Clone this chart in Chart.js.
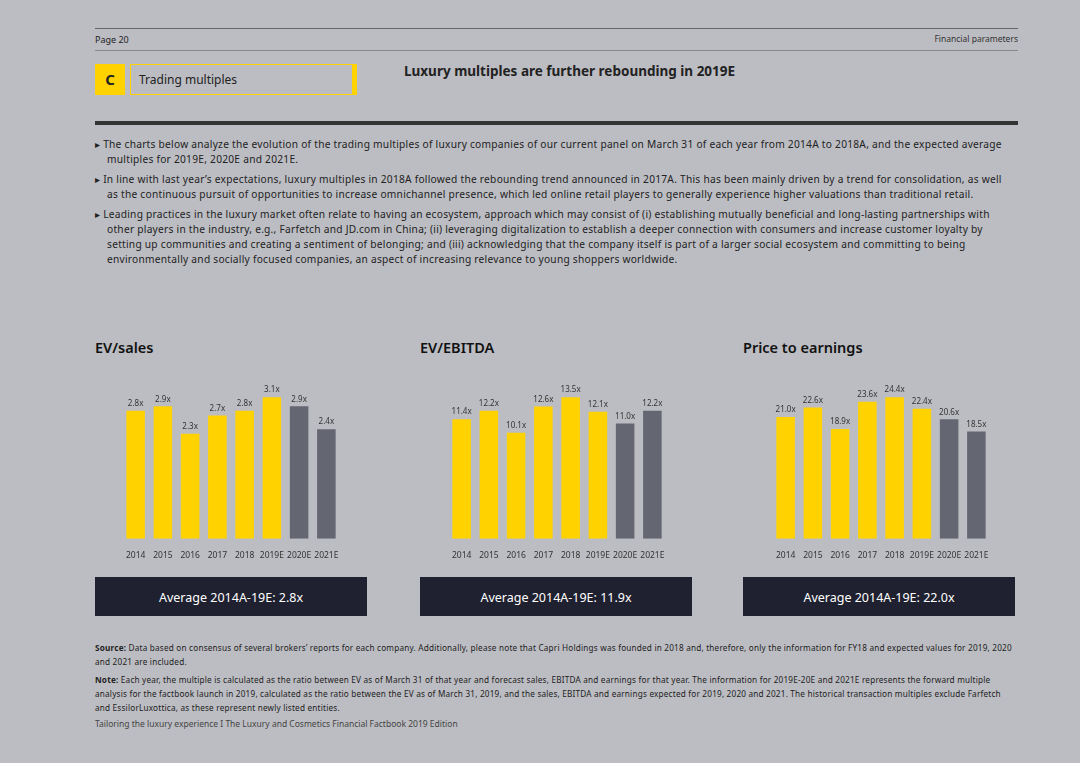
<!DOCTYPE html>
<html><head><meta charset="utf-8">
<script src="https://cdn.jsdelivr.net/npm/chart.js@4"></script>
<style>
body{margin:0;background:#bcbdc2;font-family:"Noto Sans",sans-serif;color:#222;}
#page{position:relative;width:1080px;height:763px;overflow:hidden;}
.a{position:absolute;}
p.b{margin:0 0 5px 0;font-size:10.2px;line-height:15px;padding-left:12px;text-indent:-12px;letter-spacing:0.25px;}
.avg{position:absolute;top:577px;height:39px;background:#1f2130;color:#fff;font-size:12.5px;text-align:center;line-height:41px;width:272px;}
.t{position:absolute;top:337px;font-size:14.5px;font-weight:600;color:#111;}
canvas{display:block;}
</style></head><body><div id="page">
<div class="a" style="left:95px;top:28px;width:923px;border-top:1px solid #666"></div>
<div class="a" style="left:95px;top:33px;font-size:9px">Page 20</div>
<div class="a" style="left:900px;top:33px;width:118px;text-align:right;font-size:8.5px;color:#333">Financial parameters</div>
<div class="a" style="left:95px;top:50px;width:923px;border-top:1px solid #888"></div>
<div class="a" style="left:95px;top:64px;width:30px;height:31px;background:#ffd200;font-weight:700;font-size:15px;text-align:center;line-height:31px">C</div>
<div class="a" style="left:130px;top:64px;width:213px;height:29px;border:1px solid #ffd200;border-right:5px solid #ffd200;font-size:12px;line-height:30px;padding-left:8px">Trading multiples</div>
<div class="a" style="left:404px;top:62px;font-size:13.5px;font-weight:700;color:#222">Luxury multiples are further rebounding in 2019E</div>
<div class="a" style="left:95px;top:121px;width:923px;height:4px;background:#333"></div>
<div class="a" style="left:95px;top:137px;width:920px">
<p class="b">▸ The charts below analyze the evolution of the trading multiples of luxury companies of our current panel on March 31 of each year from 2014A to 2018A, and the expected average multiples for 2019E, 2020E and 2021E.</p>
<p class="b">▸ In line with last year’s expectations, luxury multiples in 2018A followed the rebounding trend announced in 2017A. This has been mainly driven by a trend for consolidation, as well as the continuous pursuit of opportunities to increase omnichannel presence, which led online retail players to generally experience higher valuations than traditional retail.</p>
<p class="b">▸ Leading practices in the luxury market often relate to having an ecosystem, approach which may consist of (i) establishing mutually beneficial and long-lasting partnerships with other players in the industry, e.g., Farfetch and JD.com in China; (ii) leveraging digitalization to establish a deeper connection with consumers and increase customer loyalty by setting up communities and creating a sentiment of belonging; and (iii) acknowledging that the company itself is part of a larger social ecosystem and committing to being environmentally and socially focused companies, an aspect of increasing relevance to young shoppers worldwide.</p>
</div>
<div class="t" style="left:95px">EV/sales</div>
<div class="t" style="left:420px">EV/EBITDA</div>
<div class="t" style="left:743px">Price to earnings</div>
<div class="a" style="left:118px;top:370px;width:226px;height:195px"><canvas id="c1"></canvas></div>
<div class="a" style="left:444px;top:370px;width:226px;height:195px"><canvas id="c2"></canvas></div>
<div class="a" style="left:768px;top:370px;width:226px;height:195px"><canvas id="c3"></canvas></div>
<div class="avg" style="left:95px">Average 2014A-19E: 2.8x</div>
<div class="avg" style="left:420px">Average 2014A-19E: 11.9x</div>
<div class="avg" style="left:743px">Average 2014A-19E: 22.0x</div>
<div class="a" style="left:95px;top:641px;width:923px;font-size:8.2px;line-height:14px;color:#222;letter-spacing:0.2px">
<div><b>Source:</b> Data based on consensus of several brokers’ reports for each company. Additionally, please note that Capri Holdings was founded in 2018 and, therefore, only the information for FY18 and expected values for 2019, 2020 and 2021 are included.</div>
<div style="margin-top:4px"><b>Note:</b> Each year, the multiple is calculated as the ratio between EV as of March 31 of that year and forecast sales, EBITDA and earnings for that year. The information for 2019E-20E and 2021E represents the forward multiple analysis for the factbook launch in 2019, calculated as the ratio between the EV as of March 31, 2019, and the sales, EBITDA and earnings expected for 2019, 2020 and 2021. The historical transaction multiples exclude Farfetch and EssilorLuxottica, as these represent newly listed entities.</div>
</div>
<div class="a" style="left:95px;top:718px;font-size:8.5px;color:#444">Tailoring the luxury experience I The Luxury and Cosmetics Financial Factbook 2019 Edition</div>
</div>
<script>
const years = ['2014', '2015', '2016', '2017', '2018', '2019E', '2020E', '2021E'];
const evSales = [2.8, 2.9, 2.3, 2.7, 2.8, 3.1, 2.9, 2.4];
const evEbitda = [11.4, 12.2, 10.1, 12.6, 13.5, 12.1, 11.0, 12.2];
const priceEarnings = [21.0, 22.6, 18.9, 23.6, 24.4, 22.4, 20.6, 18.5];
const barColors = ['#ffd200', '#ffd200', '#ffd200', '#ffd200', '#ffd200', '#ffd200', '#646672', '#646672'];

// draws "2.8x" style labels above each bar
const valueLabels = {
    id: 'valueLabels',
    afterDatasetsDraw(chart) {
        const ctx = chart.ctx;
        const meta = chart.getDatasetMeta(0);
        ctx.save();
        ctx.font = '8px "Noto Sans"';
        ctx.fillStyle = '#333';
        ctx.textAlign = 'center';
        ctx.textBaseline = 'bottom';
        meta.data.forEach((bar, i) => {
            ctx.fillText(chart.data.datasets[0].data[i].toFixed(1) + 'x', bar.x, bar.y - 3);
        });
        ctx.restore();
    }
};

function makeChart(id, values) {
    new Chart(document.getElementById(id), {
        type: 'bar',
        data: {
            labels: years,
            datasets: [{ data: values, backgroundColor: barColors, barPercentage: 0.68, categoryPercentage: 1 }]
        },
        options: {
            responsive: true,
            maintainAspectRatio: false,
            animation: false,
            layout: { padding: { top: 13, left: 4, right: 4 } },
            plugins: { legend: { display: false }, tooltip: { enabled: false } },
            scales: {
                x: {
                    grid: { display: false },
                    border: { display: false },
                    ticks: { font: { size: 8.5, family: 'Noto Sans' }, color: '#333', maxRotation: 0, autoSkip: false, padding: 4 }
                },
                y: { display: false, min: 0, max: Math.max(...values) * 1.1 }
            }
        },
        plugins: [valueLabels]
    });
}

makeChart('c1', evSales);
makeChart('c2', evEbitda);
makeChart('c3', priceEarnings);
</script>
</body></html>
